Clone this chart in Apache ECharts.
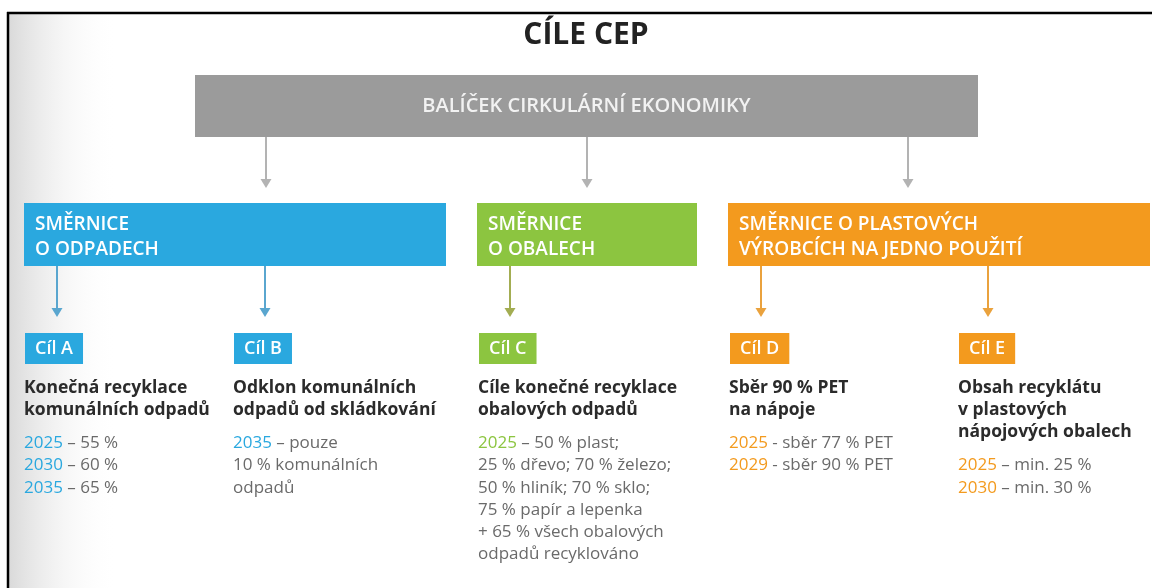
<!DOCTYPE html>
<html>
<head>
<meta charset="utf-8">
<script src="https://cdn.jsdelivr.net/npm/echarts@6/dist/echarts.min.js"></script>
<style>
  html,body{margin:0;padding:0;background:#fff;}
  #chart{width:1153px;height:588px;}
</style>
</head>
<body>
<div id="chart"></div>
<script>
(function(){
  // --- obsah infografiky ---
  const TITLE = 'CÍLE CEP';
  const PACKAGE = 'BALÍČEK CIRKULÁRNÍ EKONOMIKY';
  const directiveNames = ['SMĚRNICE\nO ODPADECH', 'SMĚRNICE\nO OBALECH', 'SMĚRNICE O PLASTOVÝCH\nVÝROBCÍCH NA JEDNO POUŽITÍ'];
  const directiveColors = ['#2aa8df', '#8cc540', '#f39a1e'];
  const arrowColors = ['#5aa6cf', '#a3ad52', '#eaa23d'];
  const goalNames = ['Cíl A', 'Cíl B', 'Cíl C', 'Cíl D', 'Cíl E'];
  const goalDirective = [0, 0, 1, 2, 2];
  const goalHeadings = [
    ['Konečná recyklace', 'komunálních odpadů'],
    ['Odklon komunálních', 'odpadů od skládkování'],
    ['Cíle konečné recyklace', 'obalových odpadů'],
    ['Sběr 90 % PET', 'na nápoje'],
    ['Obsah recyklátu', 'v plastových', 'nápojových obalech']
  ];
  // [rok, text] – rok se barví podle směrnice
  const goalLines = [
    [['2025', ' – 55 %'], ['2030', ' – 60 %'], ['2035', ' – 65 %']],
    [['2035', ' – pouze'], ['', '10 % komunálních'], ['', 'odpadů']],
    [['2025', ' – 50 % plast;'], ['', '25 % dřevo; 70 % železo;'], ['', '50 % hliník; 70 % sklo;'],
     ['', '75 % papír a lepenka'], ['', '+ 65 % všech obalových'], ['', 'odpadů recyklováno']],
    [['2025', ' - sběr 77 % PET'], ['2029', ' - sběr 90 % PET']],
    [['2025', ' – min. 25 %'], ['2030', ' – min. 30 %']]
  ];

  // --- rozložení ---
  const FONT = '"Open Sans", "Noto Sans", sans-serif';
  const grayBox = {x:195, y:75, w:783, h:62};
  const grayArrowX = [266, 587, 908];
  const dirBoxes = [[24, 446], [477, 697], [728, 1150]];
  const DIR_Y = 203, DIR_H = 63;
  const goalX = [24, 233, 478, 729, 958];
  const goalArrowX = [57, 265, 510, 761, 988];
  const LINE_H = 22.2;

  const g = [];

  // pozadí a rámeček
  g.push({type:'rect', shape:{x:8, y:13, width:110, height:580}, silent:true,
    style:{fill:new echarts.graphic.LinearGradient(0,0,1,0,[{offset:0,color:'#d9d9d9'},{offset:1,color:'rgba(255,255,255,0)'}])}});
  g.push({type:'line', shape:{x1:7, y1:13, x2:1152, y2:13}, style:{stroke:'#000', lineWidth:2.5}});
  g.push({type:'line', shape:{x1:8, y1:12, x2:8, y2:588}, style:{stroke:'#000', lineWidth:2.5}});

  function arrow(x, y1, y2, color){
    g.push({type:'line', shape:{x1:x, y1:y1, x2:x, y2:y2-6}, style:{stroke:color, lineWidth:2}});
    g.push({type:'polygon', shape:{points:[[x-5.5, y2-9], [x+5.5, y2-9], [x, y2]]}, style:{fill:color}});
  }

  // nadpis
  g.push({type:'text', x:586, y:35, style:{text:TITLE, font:'bold 30px '+FONT, fill:'#222',
    align:'center', verticalAlign:'middle'}});

  // balíček
  g.push({type:'rect', shape:{x:grayBox.x, y:grayBox.y, width:grayBox.w, height:grayBox.h}, style:{fill:'#9b9b9b'}});
  g.push({type:'text', x:grayBox.x + grayBox.w/2, y:grayBox.y + grayBox.h/2, style:{text:PACKAGE,
    font:'600 20px '+FONT, fill:'#f2f2f2', align:'center', verticalAlign:'middle'}});
  grayArrowX.forEach(x=>arrow(x, grayBox.y + grayBox.h, 188, '#b3b3b3'));

  // směrnice
  directiveNames.forEach((name, i)=>{
    const [x0, x1] = dirBoxes[i];
    g.push({type:'rect', shape:{x:x0, y:DIR_Y, width:x1-x0, height:DIR_H}, style:{fill:directiveColors[i]}});
    g.push({type:'text', x:x0 + 11, y:DIR_Y + 9, style:{text:name, font:'600 19px '+FONT, fill:'#fff',
      lineHeight:25, verticalAlign:'top'}});
  });

  // cíle
  goalNames.forEach((name, i)=>{
    const d = goalDirective[i];
    const x = goalX[i];
    arrow(goalArrowX[i], DIR_Y + DIR_H, 317, arrowColors[d]);
    g.push({type:'text', x:x + 1, y:333, style:{text:name, font:'600 18px '+FONT, fill:'#fff',
      backgroundColor:directiveColors[d], padding:[5, 10, 5, 10], lineHeight:21, verticalAlign:'top'}});
    let y = 388;
    goalHeadings[i].forEach(line=>{
      g.push({type:'text', x:x, y:y, style:{text:line, font:'bold 17.5px '+FONT, fill:'#2b2b2b', verticalAlign:'middle'}});
      y += LINE_H;
    });
    y += 11;
    goalLines[i].forEach(([year, txt])=>{
      const t = (year ? '{y|' + year + '}' : '') + '{t|' + txt + '}';
      g.push({type:'text', x:x, y:y, style:{text:t, verticalAlign:'middle',
        rich:{y:{font:'17px '+FONT, fill:directiveColors[d]}, t:{font:'17px '+FONT, fill:'#6a6a6a'}}}});
      y += LINE_H;
    });
  });

  const chart = echarts.init(document.getElementById('chart'));
  chart.setOption({animation:false, backgroundColor:'#fff', graphic:{elements:g}});
})();
</script>
</body>
</html>
